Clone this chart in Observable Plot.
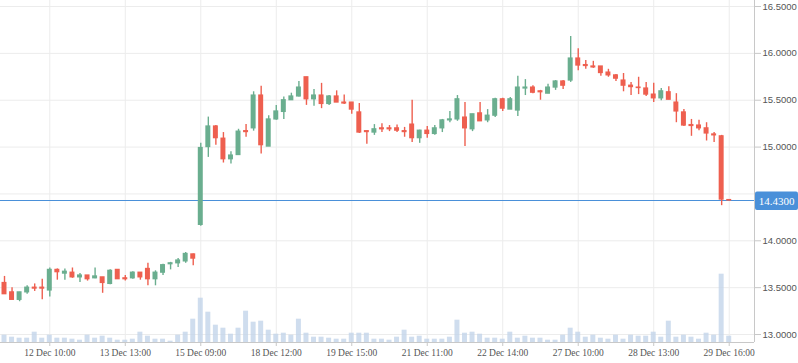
<!DOCTYPE html>
<html><head><meta charset="utf-8">
<script src="https://cdn.jsdelivr.net/npm/d3@7"></script>
<script src="https://cdn.jsdelivr.net/npm/@observablehq/plot@0.6"></script>
<style>
body{margin:0;background:#fff;}
#wrap{position:relative;width:798px;height:363px;overflow:hidden;}
#wrap svg{position:absolute;left:0;top:0;}
</style></head><body><div id="wrap"></div>
<script>
const open = [13.55,13.45,13.37,13.45,13.50,13.50,13.47,13.69,13.65,13.66,
13.61,13.63,13.60,13.61,13.54,13.69,13.60,13.60,13.66,13.70,
13.59,13.66,13.75,13.76,13.78,13.855,14.17,15.00,15.22,15.09,
14.87,14.915,15.17,15.20,15.55,15.005,15.295,15.375,15.50,15.54,
15.745,15.51,15.55,15.46,15.54,15.475,15.475,15.37,15.17,15.155,
15.20,15.20,15.20,15.17,15.24,15.095,15.175,15.14,15.20,15.285,
15.295,15.315,15.19,15.36,15.285,15.335,15.51,15.40,15.39,15.625,
15.635,15.595,15.57,15.635,15.70,15.71,15.945,15.875,15.86,15.86,
15.795,15.765,15.71,15.655,15.635,15.625,15.56,15.52,15.585,15.475,
15.37,15.235,15.23,15.20,15.135,15.115,14.435];
const high = [13.62,13.50,13.45,13.52,13.54,13.59,13.71,13.70,13.70,13.71,
13.65,13.63,13.71,13.61,13.69,13.69,13.63,13.67,13.66,13.76,
13.68,13.75,13.77,13.81,13.875,13.86,15.04,15.32,15.23,15.155,
14.95,15.19,15.24,15.59,15.65,15.335,15.445,15.535,15.575,15.70,
15.745,15.615,15.68,15.55,15.60,15.555,15.475,15.465,15.17,15.24,
15.25,15.23,15.235,15.21,15.50,15.18,15.22,15.23,15.295,15.38,
15.55,15.475,15.35,15.475,15.40,15.52,15.52,15.53,15.755,15.72,
15.655,15.605,15.67,15.71,15.71,16.18,16.05,15.925,15.915,15.86,
15.83,15.775,15.785,15.69,15.745,15.69,15.68,15.625,15.645,15.57,
15.40,15.295,15.285,15.26,15.155,15.125,14.44];
const low = [13.43,13.37,13.35,13.43,13.46,13.37,13.40,13.58,13.58,13.60,
13.555,13.57,13.595,13.44,13.53,13.59,13.57,13.59,13.58,13.52,
13.52,13.63,13.69,13.715,13.76,13.735,14.155,14.89,15.02,14.83,
14.82,14.915,15.105,15.17,14.925,15.005,15.285,15.295,15.50,15.535,
15.445,15.435,15.41,15.445,15.475,15.455,15.35,15.145,15.03,15.125,
15.155,15.165,15.155,15.105,15.05,15.04,15.095,15.125,15.155,15.26,
15.275,15.005,15.165,15.275,15.26,15.315,15.38,15.40,15.325,15.55,
15.57,15.50,15.57,15.605,15.615,15.69,15.815,15.83,15.84,15.755,
15.745,15.70,15.59,15.55,15.56,15.54,15.475,15.495,15.505,15.26,
15.22,15.115,15.175,15.065,15.05,14.375,14.425];
const close = [13.43,13.37,13.45,13.50,13.49,13.49,13.69,13.665,13.67,13.61,
13.63,13.59,13.62,13.55,13.68,13.59,13.59,13.66,13.61,13.59,
13.66,13.74,13.76,13.79,13.86,13.81,14.99,15.22,15.095,14.87,
14.91,15.165,15.16,15.55,15.02,15.295,15.38,15.50,15.54,15.635,
15.51,15.55,15.46,15.54,15.475,15.465,15.40,15.155,15.16,15.19,
15.19,15.19,15.175,15.16,15.095,15.175,15.14,15.20,15.285,15.295,
15.51,15.20,15.35,15.275,15.335,15.51,15.41,15.51,15.635,15.635,
15.58,15.585,15.635,15.70,15.655,15.945,15.87,15.865,15.85,15.79,
15.765,15.73,15.655,15.64,15.63,15.56,15.52,15.595,15.505,15.38,
15.23,15.225,15.20,15.145,15.125,14.44,14.43];
const volume = [7.3,5.3,4.3,4.3,10.3,4.3,7.3,4.3,4.3,3.3,
2.3,7.3,4.3,6.3,4.3,2.3,2.3,3.3,10.3,6.3,
3.3,3.3,1.3,7.3,10.3,23.3,44.3,30.3,17.3,14.3,
8.3,14.3,31.3,20.3,21.3,12.3,8.3,9.3,7.3,23.3,
9.3,5.3,5.3,4.3,3.3,3.3,9.3,9.3,9.3,3.3,
3.3,2.3,5.3,12.3,5.3,6.3,3.3,3.3,3.3,5.3,
22.3,9.3,10.3,8.3,4.3,4.3,3.3,10.3,4.3,6.3,
4.3,4.3,2.3,2.3,7.3,14.3,10.3,5.3,7.3,4.3,
3.3,7.3,3.3,7.3,6.3,6.3,10.3,5.3,21.3,5.3,
7.3,5.3,3.3,9.3,7.3,68.3,6.3];
const tickIndex = [6,16,26,36,46,56,66,76,86,96];
const tickLabels = ["12 Dec 10:00","13 Dec 13:00","15 Dec 09:00","18 Dec 12:00","19 Dec 15:00","21 Dec 11:00","22 Dec 14:00","27 Dec 10:00","28 Dec 13:00","29 Dec 16:00"];
const priceTicks = [13.0,13.5,14.0,14.5,15.0,15.5,16.0,16.5];
const lastPrice = 14.43;

const UP = "#6aae8f", DOWN = "#ee5f4f";
const candles = open.map((o, i) => ({i, open: o, high: high[i], low: low[i], close: close[i], volume: volume[i]}));
const labelMap = new Map(tickIndex.map((t, k) => [t, tickLabels[k]]));
const xDomain = [-0.53, 99.35];
const yDomain = [12.915, 16.564];
const common = {width: 798, height: 363, marginLeft: 0, marginRight: 44, marginTop: 0, marginBottom: 21};
const col = d => d.close >= d.open ? UP : DOWN;
// the last-price badge hides the tick label closest to it
const labelTicks = priceTicks.filter(p => Math.abs(p - lastPrice) > 0.15);

const volPlot = Plot.plot({
  ...common,
  style: {background: "#fff"},
  x: {type: "linear", domain: xDomain, axis: null},
  y: {domain: [0, 342], axis: null},
  marks: [
    Plot.gridY(priceTicks.map(p => (p - yDomain[0]) / (yDomain[1] - yDomain[0]) * 342), {stroke: "#ececec", strokeOpacity: 1}),
    Plot.gridX(tickIndex, {stroke: "#ececec", strokeOpacity: 1}),
    Plot.rectY(candles, {x1: d => d.i - 0.33, x2: d => d.i + 0.33, y: "volume", fill: "#c3d5ea", fillOpacity: 0.8})
  ]
});

const pricePlot = Plot.plot({
  ...common,
  style: {background: "transparent", overflow: "visible", fontFamily: "'Liberation Sans', Arial, sans-serif"},
  x: {type: "linear", domain: xDomain, axis: null, label: null},
  y: {domain: yDomain, axis: null, label: null},
  marks: [
    Plot.ruleY([yDomain[0]], {stroke: "#c8c8c8"}),
    Plot.ruleX([xDomain[1]], {stroke: "#c8c8c8"}),
    Plot.ruleY([lastPrice], {stroke: "#4a90d9", strokeWidth: 1.2}),
    Plot.ruleX(candles, {x: "i", y1: "low", y2: "high", stroke: col, strokeWidth: 1.4}),
    Plot.rect(candles, {x1: d => d.i - 0.33, x2: d => d.i + 0.33, y1: d => Math.min(d.open, d.close), y2: d => Math.max(d.open, d.close), fill: col, insetTop: -0.6, insetBottom: -0.6}),
    Plot.axisY(labelTicks, {anchor: "right", label: null, tickFormat: d3.format(".4f"), tickSize: 6, tickPadding: 2, stroke: "#c8c8c8", fill: "#555", fontSize: 9.5}),
    Plot.axisX(tickIndex, {anchor: "bottom", label: null, tickFormat: d => labelMap.get(d), tickSize: 4, tickPadding: 3, stroke: "#c8c8c8", fill: "#555", fontSize: 9.5, fontFamily: "'Liberation Serif', serif"})
  ]
});

const wrap = document.getElementById("wrap");
wrap.appendChild(volPlot);
wrap.appendChild(pricePlot);

const yPx = pricePlot.scale("y").apply(lastPrice);
const xPx = pricePlot.scale("x").apply(xDomain[1]);
const svg = d3.select(pricePlot);
svg.append("rect").attr("x", xPx + 1).attr("y", yPx - 8.5).attr("width", 798 - xPx - 1).attr("height", 18.5).attr("rx", 2).attr("fill", "#4a90d9");
svg.append("text").attr("x", xPx + 1 + (798 - xPx - 1) / 2).attr("y", yPx + 1).attr("dy", "0.32em")
  .attr("text-anchor", "middle").attr("fill", "#fff").attr("font-size", 11).attr("font-family", "'Liberation Serif', serif").text(d3.format(".4f")(lastPrice));
</script></body></html>
